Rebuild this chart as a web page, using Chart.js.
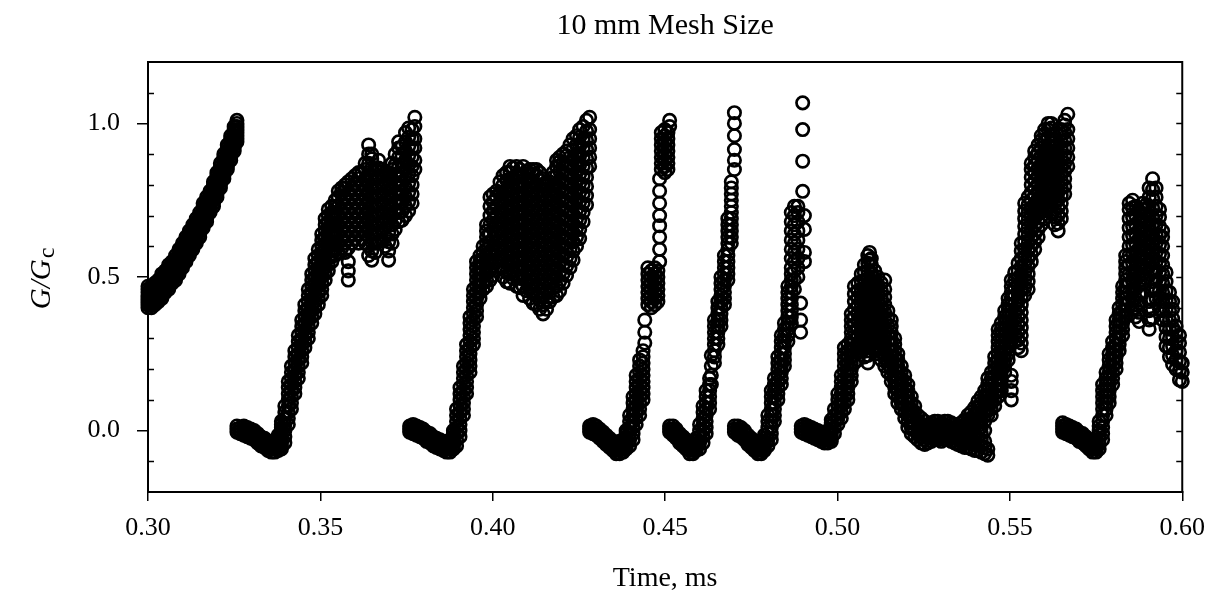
<!DOCTYPE html>
<html>
<head>
<meta charset="utf-8">
<script src="https://cdn.jsdelivr.net/npm/chart.js@4/dist/chart.umd.min.js"></script>
<style>
  html, body { margin: 0; padding: 0; background: #fff; }
  #wrap { width: 1217px; height: 607px; }
</style>
</head>
<body>
<div id="wrap"><canvas id="meshchart"></canvas></div>
<script>
// tick labels
var xTicks = [0.30, 0.35, 0.40, 0.45, 0.50, 0.55, 0.60];
var yTicks = [0.0, 0.5, 1.0];
var yMinorTicks = [-0.1, 0.1, 0.2, 0.3, 0.4, 0.6, 0.7, 0.8, 0.9, 1.1];

// G/Gc samples, one list per crack run: [time (ms), [values at that time]]
var seg1 = [
  [0.3000,[0.40,0.41,0.42,0.43,0.44,0.45,0.46,0.47]],[0.3010,[0.40,0.41,0.42,0.43,0.44,0.45,0.46,0.47]],
  [0.3020,[0.41,0.42,0.43,0.44,0.45,0.46,0.47,0.48]],[0.3030,[0.42,0.43,0.44,0.45,0.46,0.47,0.48,0.49]],
  [0.3040,[0.43,0.44,0.45,0.46,0.47,0.48,0.49,0.50,0.51]],[0.3050,[0.45,0.46,0.47,0.48,0.49,0.50,0.51,0.52]],
  [0.3060,[0.46,0.47,0.48,0.49,0.50,0.51,0.52,0.53,0.54]],[0.3070,[0.48,0.49,0.50,0.51,0.52,0.53,0.54,0.55]],
  [0.3080,[0.49,0.50,0.51,0.52,0.53,0.54,0.55,0.56,0.57]],[0.3090,[0.51,0.52,0.53,0.54,0.55,0.56,0.57,0.58,0.59]],
  [0.3100,[0.53,0.54,0.55,0.56,0.57,0.58,0.59,0.60,0.61]],[0.3110,[0.55,0.56,0.57,0.58,0.59,0.60,0.61,0.62,0.63]],
  [0.3120,[0.57,0.58,0.59,0.60,0.61,0.62,0.63,0.64,0.65]],[0.3130,[0.59,0.60,0.61,0.62,0.63,0.64,0.65,0.66,0.67]],
  [0.3140,[0.61,0.62,0.63,0.64,0.65,0.66,0.67,0.68,0.69]],[0.3150,[0.63,0.64,0.65,0.66,0.67,0.68,0.69,0.70,0.71]],
  [0.3160,[0.66,0.67,0.68,0.69,0.70,0.71,0.72,0.73,0.74]],[0.3170,[0.68,0.69,0.70,0.71,0.72,0.73,0.74,0.75,0.76]],
  [0.3180,[0.71,0.72,0.73,0.74,0.75,0.76,0.77,0.78]],[0.3190,[0.73,0.74,0.75,0.76,0.77,0.78,0.79,0.80,0.81]],
  [0.3200,[0.76,0.77,0.78,0.79,0.80,0.81,0.82,0.83,0.84]],[0.3210,[0.79,0.80,0.81,0.82,0.83,0.84,0.85,0.86,0.87]],
  [0.3220,[0.82,0.83,0.84,0.85,0.86,0.87,0.88,0.89,0.90]],[0.3230,[0.85,0.86,0.87,0.88,0.89,0.90,0.91,0.92,0.93]],
  [0.3240,[0.88,0.89,0.90,0.91,0.92,0.93,0.94,0.95,0.96]],[0.3250,[0.91,0.92,0.93,0.94,0.95,0.96,0.97,0.98,0.99]],
  [0.3258,[0.94,0.95,0.96,0.97,0.98,0.99,1.00,1.01]]
];

var seg2 = [
  [0.3258,[-0.005,0.005,0.015]],[0.3268,[-0.01,0.0,0.01]],[0.3278,[-0.015,-0.005,0.005,0.015]],
  [0.3288,[-0.02,-0.01,0.0,0.01]],[0.3298,[-0.025,-0.015,-0.005,0.005]],[0.3308,[-0.03,-0.02,-0.01,0.0]],
  [0.3318,[-0.04,-0.03,-0.02,-0.01]],[0.3328,[-0.05,-0.04,-0.03,-0.02]],[0.3338,[-0.055,-0.045,-0.035,-0.025]],
  [0.3348,[-0.065,-0.055,-0.045,-0.035]],[0.3358,[-0.07,-0.06,-0.05,-0.04]],[0.3368,[-0.07,-0.06,-0.05,-0.04,-0.03]],
  [0.3378,[-0.065,-0.055,-0.045,-0.035,-0.025,-0.015]],
  [0.3387,[-0.06,-0.05,-0.04,-0.03,-0.02,-0.01,0.0,0.01,0.02,0.03]],
  [0.3397,[-0.04,-0.02,0.0,0.02,0.04,0.06,0.08]],
  [0.3407,[0.02,0.04,0.06,0.08,0.10,0.12,0.14,0.16]],
  [0.3416,[0.07,0.09,0.11,0.13,0.15,0.17,0.19,0.21]],
  [0.3426,[0.12,0.14,0.16,0.18,0.20,0.22,0.24,0.26]],
  [0.3436,[0.17,0.19,0.21,0.23,0.25,0.27,0.29,0.31]],
  [0.3446,[0.22,0.24,0.26,0.28,0.30,0.32,0.34,0.36]],
  [0.3455,[0.27,0.29,0.31,0.33,0.35,0.37,0.39,0.41]],
  [0.3465,[0.30,0.32,0.34,0.36,0.38,0.40,0.42,0.44,0.46]],
  [0.3475,[0.35,0.37,0.39,0.41,0.43,0.45,0.47,0.49,0.51]],
  [0.3484,[0.38,0.40,0.42,0.44,0.46,0.48,0.50,0.52,0.54,0.56]],
  [0.3494,[0.41,0.43,0.45,0.47,0.49,0.51,0.53,0.55,0.57,0.59]],
  [0.3504,[0.44,0.46,0.48,0.50,0.52,0.54,0.56,0.58,0.60,0.62,0.64]],
  [0.3514,[0.49,0.51,0.53,0.55,0.57,0.59,0.61,0.63,0.65,0.67,0.69]],
  [0.3523,[0.52,0.54,0.56,0.58,0.60,0.62,0.64,0.66,0.68,0.70,0.72]],
  [0.3533,[0.55,0.57,0.59,0.61,0.63,0.65,0.67,0.69,0.71,0.73]],
  [0.3543,[0.57,0.59,0.61,0.63,0.65,0.67,0.69,0.71,0.73,0.75]],
  [0.3552,[0.58,0.61,0.64,0.67,0.70,0.73,0.76,0.78]],
  [0.3562,[0.595,0.625,0.655,0.685,0.715,0.745,0.775,0.79]],
  [0.3572,[0.58,0.61,0.64,0.67,0.70,0.73,0.76,0.79,0.80]],
  [0.3581,[0.49,0.52,0.55,0.595,0.625,0.655,0.685,0.715,0.745,0.775,0.81]],
  [0.3591,[0.61,0.64,0.67,0.70,0.73,0.76,0.79,0.82]],
  [0.3601,[0.625,0.655,0.685,0.715,0.745,0.775,0.805,0.83]],
  [0.3611,[0.61,0.64,0.67,0.70,0.73,0.76,0.79,0.82,0.84]],
  [0.3620,[0.625,0.655,0.685,0.715,0.745,0.775,0.805,0.84]],
  [0.3630,[0.61,0.64,0.67,0.70,0.73,0.76,0.79,0.82,0.85,0.87]],
  [0.3640,[0.57,0.60,0.63,0.66,0.69,0.72,0.75,0.78,0.81,0.84,0.87,0.90,0.93]],
  [0.3649,[0.555,0.585,0.615,0.645,0.675,0.705,0.735,0.765,0.795,0.825,0.855,0.885,0.90]],
  [0.3659,[0.58,0.61,0.64,0.67,0.70,0.73,0.76,0.79,0.82,0.85]],
  [0.3669,[0.615,0.645,0.675,0.705,0.735,0.765,0.795,0.825,0.855,0.88]],
  [0.3678,[0.62,0.65,0.68,0.71,0.74,0.77,0.80,0.83,0.85]],
  [0.3688,[0.60,0.63,0.66,0.69,0.72,0.75,0.78,0.81,0.84]],
  [0.3698,[0.555,0.585,0.615,0.645,0.675,0.705,0.735,0.765,0.795,0.825,0.84]],
  [0.3708,[0.61,0.64,0.67,0.70,0.73,0.76,0.79,0.82,0.85,0.87]],
  [0.3717,[0.655,0.685,0.715,0.745,0.775,0.805,0.835,0.865,0.90]],
  [0.3727,[0.68,0.71,0.74,0.77,0.80,0.83,0.86,0.89,0.92,0.94]],
  [0.3737,[0.685,0.715,0.745,0.775,0.805,0.835,0.865,0.895,0.925]],
  [0.3747,[0.70,0.73,0.76,0.79,0.82,0.85,0.88,0.91,0.94,0.97]],
  [0.3756,[0.715,0.745,0.775,0.805,0.835,0.865,0.895,0.925,0.955,0.985]],
  [0.3766,[0.74,0.77,0.80,0.83,0.86,0.89,0.92,0.95,0.98]],
  [0.3774,[0.85,0.88,0.92,0.95,0.99,1.02]]
];

var seg3 = [
  [0.3759,[-0.005,0.005,0.015]],[0.3769,[-0.01,0.0,0.01,0.02]],[0.3779,[-0.015,-0.005,0.005,0.015]],
  [0.3789,[-0.02,-0.01,0.0,0.01]],[0.3798,[-0.025,-0.015,-0.005,0.005]],[0.3808,[-0.035,-0.025,-0.015,-0.005]],
  [0.3818,[-0.04,-0.03,-0.02,-0.01]],[0.3828,[-0.05,-0.04,-0.03,-0.02]],[0.3837,[-0.055,-0.045,-0.035,-0.025]],
  [0.3847,[-0.06,-0.05,-0.04,-0.03]],[0.3857,[-0.065,-0.055,-0.045,-0.035]],[0.3866,[-0.07,-0.06,-0.05,-0.04]],
  [0.3876,[-0.07,-0.06,-0.05,-0.04,-0.03]],[0.3886,[-0.06,-0.05,-0.04,-0.03,-0.02,-0.01,0.0]],
  [0.3895,[-0.05,-0.03,-0.01,0.01,0.03,0.05,0.07]],
  [0.3905,[-0.02,0.0,0.02,0.04,0.06,0.08,0.10,0.12,0.14]],
  [0.3915,[0.05,0.07,0.09,0.11,0.13,0.15,0.17,0.19,0.21]],
  [0.3924,[0.12,0.14,0.16,0.18,0.20,0.22,0.24,0.26,0.28]],
  [0.3934,[0.19,0.21,0.23,0.25,0.27,0.29,0.31,0.33,0.35,0.37]],
  [0.3944,[0.28,0.30,0.32,0.34,0.36,0.38,0.40,0.42,0.44,0.46]],
  [0.3953,[0.37,0.39,0.41,0.43,0.45,0.47,0.49,0.51,0.53,0.55]],
  [0.3963,[0.43,0.45,0.47,0.49,0.51,0.53,0.55,0.57]],
  [0.3972,[0.46,0.48,0.50,0.52,0.54,0.56,0.58,0.60]],
  [0.3982,[0.47,0.49,0.51,0.53,0.55,0.57,0.59,0.61,0.63,0.65,0.67]],
  [0.3992,[0.49,0.52,0.55,0.58,0.61,0.64,0.67,0.70,0.73,0.76]],
  [0.4001,[0.505,0.535,0.565,0.595,0.625,0.655,0.685,0.715,0.745,0.77]],
  [0.4011,[0.55,0.58,0.61,0.64,0.67,0.70,0.73,0.76,0.78]],
  [0.4021,[0.535,0.565,0.595,0.625,0.655,0.685,0.715,0.745,0.775,0.81]],
  [0.4030,[0.50,0.53,0.56,0.59,0.62,0.65,0.68,0.71,0.74,0.77,0.80,0.83]],
  [0.4040,[0.485,0.515,0.545,0.575,0.605,0.635,0.665,0.695,0.725,0.755,0.785,0.815,0.84]],
  [0.4050,[0.48,0.51,0.54,0.57,0.60,0.63,0.66,0.69,0.72,0.75,0.78,0.81,0.84,0.86]],
  [0.4059,[0.495,0.525,0.555,0.585,0.615,0.645,0.675,0.705,0.735,0.765,0.795,0.825,0.855]],
  [0.4069,[0.47,0.50,0.53,0.56,0.59,0.62,0.65,0.68,0.71,0.74,0.77,0.80,0.83,0.86]],
  [0.4079,[0.465,0.495,0.525,0.555,0.585,0.615,0.645,0.675,0.705,0.735,0.765,0.795,0.825,0.85]],
  [0.4088,[0.44,0.47,0.50,0.53,0.56,0.59,0.62,0.65,0.68,0.71,0.74,0.77,0.80,0.83,0.86]],
  [0.4098,[0.455,0.485,0.515,0.545,0.575,0.605,0.635,0.665,0.695,0.725,0.755,0.785,0.815,0.845]],
  [0.4107,[0.43,0.46,0.49,0.52,0.55,0.58,0.61,0.64,0.67,0.70,0.73,0.76,0.79,0.82,0.85]],
  [0.4117,[0.415,0.445,0.475,0.505,0.535,0.565,0.595,0.625,0.655,0.685,0.715,0.745,0.775,0.805,0.835,0.85]],
  [0.4127,[0.41,0.44,0.47,0.50,0.53,0.56,0.59,0.62,0.65,0.68,0.71,0.74,0.77,0.80,0.83,0.85]],
  [0.4136,[0.395,0.425,0.455,0.485,0.515,0.545,0.575,0.605,0.635,0.665,0.695,0.725,0.755,0.785,0.815,0.84]],
  [0.4146,[0.38,0.41,0.44,0.47,0.50,0.53,0.56,0.59,0.62,0.65,0.68,0.71,0.74,0.77,0.80,0.82]],
  [0.4156,[0.395,0.425,0.455,0.485,0.515,0.545,0.575,0.605,0.635,0.665,0.695,0.725,0.755,0.785,0.80]],
  [0.4165,[0.42,0.45,0.48,0.51,0.54,0.57,0.60,0.63,0.66,0.69,0.72,0.75,0.78,0.81]],
  [0.4175,[0.435,0.465,0.495,0.525,0.555,0.585,0.615,0.645,0.675,0.705,0.735,0.765,0.795,0.825,0.84]],
  [0.4185,[0.44,0.47,0.50,0.53,0.56,0.59,0.62,0.65,0.68,0.71,0.74,0.77,0.80,0.83,0.86,0.88]],
  [0.4194,[0.455,0.485,0.515,0.545,0.575,0.605,0.635,0.665,0.695,0.725,0.755,0.785,0.815,0.845,0.875,0.89]],
  [0.4204,[0.48,0.51,0.54,0.57,0.60,0.63,0.66,0.69,0.72,0.75,0.78,0.81,0.84,0.87,0.90]],
  [0.4214,[0.505,0.535,0.565,0.595,0.625,0.655,0.685,0.715,0.745,0.775,0.805,0.835,0.865,0.895,0.91]],
  [0.4224,[0.53,0.56,0.59,0.62,0.65,0.68,0.71,0.74,0.77,0.80,0.83,0.86,0.89,0.93]],
  [0.4233,[0.555,0.585,0.615,0.645,0.675,0.705,0.735,0.765,0.795,0.825,0.855,0.885,0.915,0.95]],
  [0.4243,[0.60,0.63,0.66,0.69,0.72,0.75,0.78,0.81,0.84,0.87,0.90,0.93,0.96]],
  [0.4252,[0.625,0.655,0.685,0.715,0.745,0.775,0.805,0.835,0.865,0.895,0.925,0.955,0.98]],
  [0.4262,[0.68,0.71,0.74,0.77,0.80,0.83,0.86,0.89,0.92,0.95,0.99]],
  [0.4272,[0.735,0.765,0.795,0.825,0.855,0.885,0.915,0.945,0.975,1.01]],
  [0.4281,[0.86,0.89,0.92,0.95,0.98,1.02]]
];

var seg4 = [
  [0.4281,[-0.005,0.005,0.015]],[0.4291,[-0.01,0.0,0.01,0.02]],[0.4300,[-0.015,-0.005,0.005,0.015]],
  [0.4310,[-0.025,-0.015,-0.005,0.005]],[0.4320,[-0.035,-0.025,-0.015,-0.005]],[0.4329,[-0.045,-0.035,-0.025,-0.015]],
  [0.4339,[-0.055,-0.045,-0.035,-0.025]],[0.4349,[-0.065,-0.055,-0.045,-0.035]],[0.4358,[-0.075,-0.065,-0.055,-0.045]],
  [0.4368,[-0.075,-0.065,-0.055,-0.045,-0.035]],[0.4378,[-0.07,-0.06,-0.05,-0.04,-0.03]],
  [0.4387,[-0.06,-0.05,-0.04,-0.03,-0.02,-0.01,0.0]],
  [0.4397,[-0.05,-0.03,-0.01,0.01,0.03,0.05]],
  [0.4407,[-0.03,-0.01,0.01,0.03,0.05,0.07,0.09,0.11]],
  [0.4416,[0.02,0.04,0.06,0.08,0.10,0.12,0.14,0.16,0.18]],
  [0.4426,[0.05,0.07,0.09,0.11,0.13,0.15,0.17,0.19,0.21,0.23]],
  [0.4436,[0.10,0.12,0.14,0.16,0.18,0.20,0.22,0.24,0.26]],
  [0.4441,[0.285,0.32,0.36]],
  [0.4450,[0.41,0.43,0.45,0.47,0.49,0.51,0.53]],[0.4460,[0.40,0.42,0.44,0.46,0.48,0.50,0.52]],
  [0.4470,[0.41,0.43,0.45,0.47,0.49,0.51,0.53]],[0.4479,[0.42,0.44,0.46,0.48,0.50,0.52]],
  [0.4484,[0.55,0.59,0.63,0.667,0.70,0.74,0.78,0.82]],
  [0.4489,[0.85,0.87,0.89,0.91,0.93,0.95,0.97]],[0.4499,[0.84,0.86,0.88,0.90,0.92,0.94,0.96,0.98]],
  [0.4508,[0.85,0.87,0.89,0.91,0.93,0.95,0.97]],[0.4513,[0.99,1.01]]
];

var seg5 = [
  [0.4513,[-0.005,0.005,0.015]],[0.4523,[-0.015,-0.005,0.005,0.015]],[0.4532,[-0.025,-0.015,-0.005,0.005]],
  [0.4542,[-0.04,-0.03,-0.02,-0.01]],[0.4552,[-0.05,-0.04,-0.03,-0.02]],[0.4561,[-0.06,-0.05,-0.04,-0.03]],
  [0.4571,[-0.075,-0.065,-0.055,-0.045]],[0.4581,[-0.075,-0.065,-0.055,-0.045,-0.035]],
  [0.4590,[-0.065,-0.055,-0.045,-0.035,-0.025]],[0.4600,[-0.06,-0.04,-0.02,0.0,0.02]],
  [0.4610,[-0.04,-0.02,0.0,0.02,0.04,0.06,0.08]],
  [0.4619,[-0.01,0.01,0.03,0.05,0.07,0.09,0.11,0.13]],
  [0.4629,[0.07,0.09,0.11,0.13,0.15,0.17]],[0.4634,[0.15,0.18,0.21,0.245]],
  [0.4643,[0.22,0.24,0.26,0.28,0.30,0.32,0.34,0.36]],
  [0.4653,[0.28,0.30,0.32,0.34,0.36,0.38,0.40,0.42]],
  [0.4662,[0.34,0.36,0.38,0.40,0.42,0.44,0.46,0.48,0.50]],
  [0.4672,[0.41,0.43,0.45,0.47,0.49,0.51,0.53,0.55,0.57]],
  [0.4682,[0.49,0.51,0.53,0.55,0.57,0.59,0.61,0.63,0.65,0.67,0.69]],
  [0.4692,[0.61,0.63,0.65,0.67,0.69,0.71,0.73,0.75,0.77,0.79,0.81]],
  [0.4701,[0.85,0.88,0.915,0.96,1.0,1.035]]
];

var seg6 = [
  [0.4701,[-0.005,0.005,0.015]],[0.4711,[-0.015,-0.005,0.005,0.015]],[0.4720,[-0.02,-0.01,0.0,0.01]],
  [0.4730,[-0.03,-0.02,-0.01,0.0]],[0.4740,[-0.045,-0.035,-0.025,-0.015]],[0.4750,[-0.055,-0.045,-0.035,-0.025]],
  [0.4759,[-0.065,-0.055,-0.045,-0.035]],[0.4769,[-0.075,-0.065,-0.055,-0.045]],
  [0.4779,[-0.075,-0.065,-0.055,-0.045,-0.035]],
  [0.4788,[-0.065,-0.055,-0.045,-0.035,-0.025,-0.015]],
  [0.4798,[-0.05,-0.03,-0.01,0.01,0.03,0.05]],
  [0.4808,[-0.03,-0.01,0.01,0.03,0.05,0.07,0.09,0.11,0.13]],
  [0.4817,[0.03,0.05,0.07,0.09,0.11,0.13,0.15,0.17]],
  [0.4827,[0.10,0.12,0.14,0.16,0.18,0.20,0.22,0.24]],
  [0.4837,[0.15,0.17,0.19,0.21,0.23,0.25,0.27,0.29,0.31]],
  [0.4846,[0.21,0.23,0.25,0.27,0.29,0.31,0.33,0.35]],
  [0.4856,[0.29,0.31,0.33,0.35,0.37,0.39,0.41,0.43,0.45,0.47]],
  [0.4866,[0.35,0.37,0.39,0.41,0.43,0.45,0.47,0.49,0.51,0.53,0.56,0.59,0.62,0.65,0.68,0.71]],
  [0.4875,[0.46,0.49,0.52,0.55,0.58,0.61,0.64,0.67,0.70,0.73]],
  [0.4885,[0.50,0.53,0.56,0.59,0.62,0.65,0.68,0.71,0.73]],
  [0.4893,[0.32,0.36,0.415]],[0.4899,[0.779,0.877,0.98,1.067]],[0.4904,[0.55,0.58,0.655,0.70]]
];

var seg7 = [
  [0.4895,[-0.005,0.005,0.015]],[0.4904,[-0.01,0.0,0.01,0.02]],[0.4914,[-0.015,-0.005,0.005,0.015]],
  [0.4924,[-0.02,-0.01,0.0,0.01]],[0.4933,[-0.025,-0.015,-0.005,0.005]],[0.4943,[-0.03,-0.02,-0.01,0.0]],
  [0.4953,[-0.035,-0.025,-0.015,-0.005]],[0.4962,[-0.04,-0.03,-0.02,-0.01]],
  [0.4972,[-0.04,-0.03,-0.02,-0.01,0.0]],[0.4982,[-0.035,-0.025,-0.015,-0.005,0.005,0.015,0.025,0.035]],
  [0.4991,[-0.01,0.01,0.03,0.05,0.07]],[0.5001,[0.02,0.04,0.06,0.08,0.10,0.12]],
  [0.5011,[0.04,0.06,0.08,0.10,0.12,0.14,0.16,0.18]],
  [0.5020,[0.07,0.09,0.11,0.13,0.15,0.17,0.19,0.21,0.23,0.25,0.27]],
  [0.5030,[0.10,0.12,0.14,0.16,0.18,0.20,0.22,0.24,0.26,0.28]],
  [0.5040,[0.16,0.18,0.20,0.22,0.24,0.26,0.28,0.30,0.32,0.34,0.36,0.38]],
  [0.5049,[0.22,0.245,0.27,0.295,0.32,0.345,0.37,0.395,0.42,0.445,0.47]],
  [0.5059,[0.23,0.255,0.28,0.305,0.33,0.355,0.38,0.405,0.43,0.455,0.48]],
  [0.5069,[0.26,0.285,0.31,0.335,0.36,0.385,0.41,0.435,0.46,0.485,0.51]],
  [0.5078,[0.24,0.265,0.29,0.315,0.34,0.365,0.39,0.415,0.44,0.465,0.49,0.515,0.54]],
  [0.5088,[0.22,0.245,0.27,0.295,0.32,0.345,0.37,0.395,0.42,0.445,0.47,0.495,0.52,0.545,0.57]],
  [0.5093,[0.555,0.58]],
  [0.5098,[0.29,0.315,0.34,0.365,0.39,0.415,0.44,0.465,0.49,0.515,0.54,0.56]],
  [0.5108,[0.27,0.295,0.32,0.345,0.37,0.395,0.42,0.445,0.47,0.495,0.52]],
  [0.5117,[0.25,0.275,0.30,0.325,0.35,0.375,0.40,0.425,0.45,0.475,0.50]],
  [0.5127,[0.23,0.255,0.28,0.305,0.33,0.355,0.38,0.405,0.43,0.455,0.48]],
  [0.5137,[0.21,0.235,0.26,0.285,0.31,0.335,0.36,0.385,0.41,0.435,0.46,0.49]],
  [0.5146,[0.19,0.215,0.24,0.265,0.29,0.315,0.34,0.365,0.39]],
  [0.5156,[0.16,0.18,0.20,0.22,0.24,0.26,0.28,0.30,0.32,0.34,0.36]],
  [0.5166,[0.12,0.14,0.16,0.18,0.20,0.22,0.24,0.26,0.28,0.30]],
  [0.5175,[0.09,0.11,0.13,0.15,0.17,0.19,0.21,0.23,0.25]],
  [0.5185,[0.07,0.09,0.11,0.13,0.15,0.17,0.19,0.21]],
  [0.5195,[0.04,0.06,0.08,0.10,0.12,0.14,0.16,0.18]],
  [0.5204,[0.01,0.03,0.05,0.07,0.09,0.11,0.13,0.15]],
  [0.5214,[-0.01,0.01,0.03,0.05,0.07,0.09,0.11]],
  [0.5224,[-0.02,0.0,0.02,0.04,0.06,0.08]],[0.5233,[-0.03,-0.01,0.01,0.03,0.05]],
  [0.5243,[-0.04,-0.02,0.0,0.02,0.04]],[0.5253,[-0.045,-0.03,-0.015,0.0,0.015,0.03]],
  [0.5262,[-0.04,-0.025,-0.01,0.005,0.02]],[0.5272,[-0.035,-0.02,-0.005,0.01,0.025]],
  [0.5282,[-0.03,-0.015,0.0,0.015,0.03]],[0.5291,[-0.03,-0.015,0.0,0.015,0.03]],
  [0.5301,[-0.035,-0.02,-0.005,0.01,0.025]]
];

var seg8 = [
  [0.5311,[-0.03,-0.015,0.0,0.015,0.03]],[0.5320,[-0.03,-0.015,0.0,0.015,0.03]],
  [0.5330,[-0.035,-0.02,-0.005,0.01,0.025]],[0.5340,[-0.04,-0.025,-0.01,0.005,0.02]],
  [0.5349,[-0.045,-0.03,-0.015,0.0,0.015]],[0.5359,[-0.05,-0.035,-0.02,-0.005,0.01,0.025]],
  [0.5369,[-0.055,-0.04,-0.025,-0.01,0.005,0.02,0.035]],
  [0.5378,[-0.055,-0.04,-0.025,-0.01,0.005,0.02,0.035,0.05]],
  [0.5388,[-0.06,-0.04,-0.02,0.0,0.02,0.04,0.06]],
  [0.5398,[-0.065,-0.045,-0.025,-0.005,0.015,0.035,0.055,0.075]],
  [0.5407,[-0.065,-0.045,-0.025,-0.005,0.015,0.035,0.055,0.075,0.095]],
  [0.5417,[-0.07,-0.05,-0.03,-0.01,0.01,0.03,0.05,0.07,0.09,0.11]],
  [0.5427,[-0.075,-0.055,-0.035,0.0,0.03,0.05,0.07,0.09,0.11,0.13]],
  [0.5436,[-0.08,-0.06,0.05,0.07,0.09,0.11,0.13,0.15,0.17]],
  [0.5446,[0.05,0.07,0.09,0.11,0.13,0.15,0.17,0.19]],
  [0.5456,[0.08,0.10,0.12,0.14,0.16,0.18,0.20,0.22,0.24]],
  [0.5466,[0.11,0.13,0.15,0.17,0.19,0.21,0.23,0.25,0.27,0.29,0.31,0.33]],
  [0.5475,[0.13,0.15,0.17,0.19,0.21,0.23,0.25,0.27,0.29,0.31,0.33,0.35]],
  [0.5485,[0.19,0.21,0.23,0.25,0.27,0.29,0.31,0.33,0.35,0.37,0.39]],
  [0.5495,[0.23,0.25,0.27,0.29,0.31,0.33,0.35,0.37,0.39,0.41,0.43]],
  [0.5504,[0.10,0.13,0.16,0.18,0.29,0.31,0.33,0.35,0.37,0.39,0.41,0.43,0.45,0.47,0.49]],
  [0.5514,[0.29,0.315,0.34,0.365,0.39,0.415,0.44,0.465,0.49,0.515]],
  [0.5524,[0.27,0.295,0.32,0.345,0.37,0.395,0.42,0.445,0.47,0.495,0.52,0.545]],
  [0.5533,[0.26,0.285,0.31,0.335,0.36,0.385,0.41,0.435,0.46,0.485,0.51,0.535,0.56,0.585,0.61]],
  [0.5543,[0.44,0.465,0.49,0.515,0.54,0.565,0.59,0.615,0.64,0.665,0.69,0.715,0.74]],
  [0.5553,[0.46,0.485,0.51,0.535,0.56,0.585,0.61,0.635,0.66,0.685,0.71,0.735,0.76]],
  [0.5562,[0.55,0.575,0.60,0.625,0.65,0.675,0.70,0.725,0.75,0.775,0.80,0.825,0.85,0.87]],
  [0.5572,[0.59,0.615,0.64,0.665,0.69,0.715,0.74,0.765,0.79,0.815,0.84,0.865,0.89,0.91]],
  [0.5582,[0.63,0.655,0.68,0.705,0.73,0.755,0.78,0.805,0.83,0.855,0.88,0.905,0.93]],
  [0.5591,[0.67,0.695,0.72,0.745,0.77,0.795,0.82,0.845,0.87,0.895,0.92,0.945,0.96]],
  [0.5601,[0.69,0.715,0.74,0.765,0.79,0.815,0.84,0.865,0.89,0.915,0.94,0.965,0.98]],
  [0.5611,[0.73,0.755,0.78,0.805,0.83,0.855,0.88,0.905,0.93,0.955,0.98,1.0]],
  [0.5620,[0.71,0.735,0.76,0.785,0.81,0.835,0.86,0.885,0.91,0.935,0.96,0.985,1.0]],
  [0.5630,[0.67,0.695,0.72,0.745,0.77,0.795,0.82,0.845,0.87,0.895,0.92,0.945,0.96]],
  [0.5640,[0.65,0.675,0.70,0.725,0.75,0.775,0.80,0.825,0.85,0.875,0.90]],
  [0.5649,[0.69,0.715,0.74,0.765,0.79,0.815,0.84,0.865,0.89,0.915,0.94,0.965,0.98]],
  [0.5659,[0.77,0.795,0.82,0.845,0.87,0.895,0.92,0.945,0.97,0.995,1.01]],
  [0.5668,[0.86,0.89,0.92,0.95,0.98,1.03]]
];

var seg9 = [
  [0.5653,[-0.005,0.005,0.015,0.025]],[0.5663,[-0.01,0.0,0.01,0.02]],[0.5673,[-0.015,-0.005,0.005,0.015]],
  [0.5682,[-0.02,-0.01,0.0,0.01]],[0.5692,[-0.025,-0.015,-0.005,0.005]],[0.5701,[-0.035,-0.025,-0.015,-0.005]],
  [0.5711,[-0.04,-0.03,-0.02,-0.01]],[0.5721,[-0.05,-0.04,-0.03,-0.02]],[0.5730,[-0.06,-0.05,-0.04,-0.03]],
  [0.5740,[-0.07,-0.06,-0.05,-0.04]],[0.5750,[-0.07,-0.06,-0.05,-0.04,-0.03]],
  [0.5759,[-0.06,-0.045,-0.03,-0.015,0.0,0.015,0.03]],
  [0.5769,[-0.03,-0.01,0.01,0.03,0.05,0.07,0.09,0.11,0.13,0.15]],
  [0.5779,[0.05,0.07,0.09,0.11,0.13,0.15,0.17,0.19]],
  [0.5788,[0.09,0.11,0.13,0.15,0.17,0.19,0.21,0.23,0.25]],
  [0.5798,[0.15,0.17,0.19,0.21,0.23,0.25,0.27,0.29]],
  [0.5808,[0.20,0.22,0.24,0.26,0.28,0.30,0.32,0.34,0.36]],
  [0.5817,[0.26,0.28,0.30,0.32,0.34,0.36,0.38,0.40]],
  [0.5827,[0.31,0.33,0.35,0.37,0.39,0.41,0.43,0.45,0.47]],
  [0.5836,[0.37,0.39,0.41,0.43,0.45,0.47,0.49,0.51,0.53,0.55,0.57]],
  [0.5846,[0.42,0.45,0.48,0.51,0.54,0.57,0.60,0.63,0.66,0.69,0.72,0.74]],
  [0.5856,[0.395,0.425,0.455,0.485,0.515,0.545,0.575,0.605,0.635,0.665,0.695,0.725,0.75]],
  [0.5865,[0.37,0.40,0.43,0.46,0.49,0.52,0.55,0.58,0.61,0.64,0.67,0.70,0.73]],
  [0.5875,[0.355,0.385,0.415,0.445,0.475,0.505,0.535,0.565,0.595,0.625,0.655,0.685,0.715]],
  [0.5885,[0.45,0.48,0.51,0.54,0.57,0.60,0.63,0.66,0.69,0.72,0.74]],
  [0.5895,[0.495,0.525,0.555,0.585,0.615,0.645,0.675,0.705,0.735]],
  [0.5904,[0.33,0.36,0.39,0.42,0.55,0.58,0.61,0.64,0.67,0.70,0.73,0.76,0.79]],
  [0.5914,[0.365,0.395,0.425,0.455,0.485,0.515,0.545,0.575,0.605,0.635,0.665,0.695,0.725,0.755,0.785,0.82]],
  [0.5924,[0.43,0.46,0.49,0.52,0.55,0.58,0.61,0.64,0.67,0.70,0.73,0.76,0.79]],
  [0.5934,[0.395,0.425,0.455,0.485,0.515,0.545,0.575,0.605,0.635,0.665,0.695,0.72]],
  [0.5943,[0.36,0.39,0.42,0.45,0.48,0.51,0.54,0.57,0.60,0.63,0.65]],
  [0.5953,[0.275,0.305,0.335,0.365,0.395,0.425,0.455,0.485,0.515]],
  [0.5963,[0.24,0.27,0.30,0.33,0.36,0.39,0.42,0.45]],
  [0.5972,[0.215,0.245,0.275,0.305,0.335,0.365,0.395,0.42]],
  [0.5982,[0.20,0.23,0.26,0.29,0.32,0.34]],
  [0.5992,[0.165,0.195,0.225,0.255,0.285,0.31]],
  [0.6000,[0.16,0.19,0.22]]
];

var segments = [seg1, seg2, seg3, seg4, seg5, seg6, seg7, seg8, seg9];

var points = [];
segments.forEach(function (seg) {
  seg.forEach(function (col) {
    col[1].forEach(function (g) { points.push({ x: col[0], y: g }); });
  });
});

var serif = "'Liberation Serif', 'Times New Roman', serif";

// closed frame plus the short inward ticks on both vertical sides
var framePlugin = {
  id: "frame",
  afterDraw: function (chart) {
    var c = chart.ctx, a = chart.chartArea, ys = chart.scales.y;
    c.save();
    c.strokeStyle = "#000";
    c.lineWidth = 2;
    c.strokeRect(a.left, a.top, a.right - a.left, a.bottom - a.top);
    c.lineWidth = 1.5;
    c.beginPath();
    yMinorTicks.forEach(function (v) {
      var py = Math.round(ys.getPixelForValue(v)) + 0.5;
      c.moveTo(a.left, py); c.lineTo(a.left + 6, py);
    });
    yMinorTicks.concat(yTicks).forEach(function (v) {
      var py = Math.round(ys.getPixelForValue(v)) + 0.5;
      c.moveTo(a.right, py); c.lineTo(a.right - 6, py);
    });
    c.stroke();
    c.restore();
  }
};

// rotated y title with subscript c
var yTitlePlugin = {
  id: "yTitle",
  afterDraw: function (chart) {
    var c = chart.ctx;
    var cy = (chart.chartArea.top + chart.chartArea.bottom) / 2 + 2;
    c.save();
    c.translate(40, cy);
    c.rotate(-Math.PI / 2);
    c.fillStyle = "#000";
    c.textBaseline = "alphabetic";
    c.font = "italic 29px " + serif;
    var main = "G/G";
    var w1 = c.measureText(main).width;
    c.font = "24px " + serif;
    var w2 = c.measureText("c").width;
    var x0 = -(w1 + w2) / 2;
    c.font = "italic 29px " + serif;
    c.fillText(main, x0, 10);
    c.font = "24px " + serif;
    c.fillText("c", x0 + w1 + 1, 14);
    c.restore();
  }
};

var ctx = document.getElementById("meshchart").getContext("2d");
var meshchart = new Chart(ctx, {
  type: "scatter",
  data: {
    datasets: [
      {
        label: "G/Gc",
        data: points,
        pointStyle: "circle",
        pointRadius: 6.2,
        pointHoverRadius: 6.2,
        pointBorderWidth: 2.7,
        borderColor: "#000",
        backgroundColor: "rgba(0,0,0,0)",
        clip: false,
      },
    ],
  },
  options: {
    responsive: true,
    maintainAspectRatio: false,
    animation: false,
    events: [],
    layout: { padding: { left: 0, right: 34, top: 0, bottom: 0 } },
    plugins: {
      legend: { display: false },
      tooltip: { enabled: false },
      title: {
        display: true,
        fullSize: false,
        text: "10 mm Mesh Size",
        color: "#000",
        font: { family: serif, size: 30, weight: "normal" },
        padding: { top: 8, bottom: 18 },
      },
    },
    scales: {
      x: {
        type: "linear",
        min: 0.3,
        max: 0.6,
        afterFit: function (s) { s.height = 115; },
        afterBuildTicks: function (s) { s.ticks = xTicks.map(function (v) { return { value: v }; }); },
        ticks: {
          autoSkip: false,
          maxRotation: 0,
          padding: 12,
          color: "#000",
          font: { family: serif, size: 26 },
          callback: function (v) { return Number(v).toFixed(2); },
        },
        grid: { drawOnChartArea: false, drawTicks: true, tickLength: 9, color: "#000", lineWidth: 1.5 },
        border: { display: true, color: "#000", width: 2 },
        title: {
          display: true,
          text: "Time, ms",
          color: "#000",
          font: { family: serif, size: 28 },
          padding: { top: 0, bottom: 12 },
        },
      },
      y: {
        type: "linear",
        min: -0.2,
        max: 1.2,
        afterFit: function (s) { s.width = 148; },
        afterBuildTicks: function (s) { s.ticks = yTicks.map(function (v) { return { value: v }; }); },
        ticks: {
          autoSkip: false,
          padding: 17,
          color: "#000",
          font: { family: serif, size: 26 },
          callback: function (v) { return Number(v).toFixed(1); },
        },
        grid: { drawOnChartArea: false, drawTicks: true, tickLength: 11, color: "#000", lineWidth: 1.5 },
        border: { display: true, color: "#000", width: 2 },
      },
    },
  },
  plugins: [framePlugin, yTitlePlugin],
});
</script>
</body>
</html>
